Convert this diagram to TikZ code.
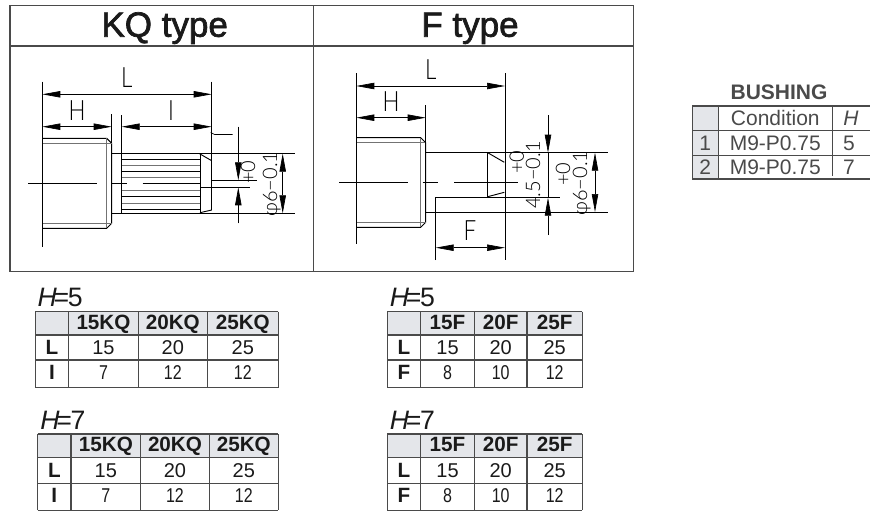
\documentclass[tikz,border=0pt]{standalone}
\usepackage{fontspec}
\setmainfont{Liberation Sans}
\newfontfamily\titlefont[FakeBold=2]{Liberation Sans}
\newfontfamily\draftfont{Lato Light}
\usetikzlibrary{arrows.meta}
\definecolor{framegray}{HTML}{4A4A4A}
\definecolor{headgray}{HTML}{E4E6EA}
\definecolor{inkgray}{HTML}{1A1A1A}
\newcommand{\sizefont}[1]{\fontsize{#1}{#1}\selectfont}
\newcommand{\narrownum}[1]{\scalebox{.8}[1]{#1}}
\newcommand{\draftletter}[1]{\scalebox{.8}[1]{#1}}
\tikzset{
  part/.style={draw=black, line width=0.7pt},
  thinpart/.style={draw=black!55, line width=0.5pt},
  dimline/.style={draw=black, line width=0.5pt},
  dimboth/.style={dimline, {Triangle[length=13.5pt,width=4.8pt]}-{Triangle[length=13.5pt,width=4.8pt]}},
  dimin/.style={dimline, -{Triangle[length=13.5pt,width=4.8pt]}},
  frameline/.style={draw=framegray, line width=0.9pt},
  gridline/.style={draw=framegray, line width=0.9pt},
  headfill/.style={fill=headgray, draw=none},
  typetitle/.style={inner sep=0pt, anchor=base, text=inkgray, font=\titlefont\sizefont{26.25pt}},
  draftlabel/.style={inner sep=0pt, font=\draftfont\sizefont{21pt}},
  drafttol/.style={inner sep=0pt, rotate=90, font=\draftfont\sizefont{15pt}},
  cellbold/.style={inner sep=0pt, anchor=base, text=inkgray, font=\bfseries\sizefont{15.5pt}},
  cellnum/.style={inner sep=0pt, anchor=base, text=inkgray, font=\sizefont{15pt}},
  cellplain/.style={inner sep=0pt, anchor=base, text=framegray, font=\sizefont{15.75pt}},
  tablehead/.style={inner sep=0pt, anchor=base west, text=inkgray, font=\sizefont{20pt}},
}
\begin{document}
\begin{tikzpicture}[x=0.75pt,y=-0.75pt]
  \useasboundingbox (0,0) rectangle (870,511);

  % frame round the two drawings
  \draw[frameline] (10,5.5) rectangle (633.3,271.7);
  \draw[frameline] (10,46) -- (633.3,46);
  \draw[frameline] (313.7,5.5) -- (313.7,271.7);
  \node[typetitle] (kqtitle) at (164.7,36.7) {KQ type};
  \node[typetitle] (ftitle) at (470,36.7) {F type};

  % KQ type, part
  \draw[part] (42.3,138.3) -- (106.7,138.3) -- (111.7,143.3) -- (111.7,223.3) -- (106.7,228.3) -- (42.3,228.3);
  \draw[thinpart] (42.3,143.3) -- (111.7,143.3);
  \draw[thinpart] (42.3,223.3) -- (111.7,223.3);
  \draw[thinpart] (106.7,138.3) -- (106.7,228.3);
  \draw[part] (111.7,153.7) -- (295,153.7);
  \draw[part] (111.7,213.3) -- (295,213.3);
  \draw[part] (121.7,153.7) -- (121.7,213.3);
  \draw[part] (200,153.7) -- (200,213.3);
  \foreach \ky in {159.3,171.7,196.7,209.3}
    \draw[part] (121.7,\ky) -- (200,\ky);
  \foreach \ky in {165.7,177.7,190,203}
    \draw[thinpart] (121.7,\ky) -- (200,\ky);
  \draw[part] (199.5,153.7) -- (211.7,160.7);
  \draw[part] (200,212.7) -- (211.7,210);
  \draw[dimline] (28.3,183.3) -- (96.7,183.3);
  \draw[dimline] (111.7,183.3) -- (127,183.3);
  \draw[part] (142.7,183.3) -- (200,183.3);
  \draw[dimline] (211.7,180.3) -- (256.7,180.3);
  \draw[dimline] (200,187.3) -- (250,187.3);

  % KQ type, dimensions
  \draw[dimline] (42.3,81.7) -- (42.3,247.3);
  \draw[dimline] (211.7,81.7) -- (211.7,210);
  \draw[dimline] (111.7,114) -- (111.7,143.3);
  \draw[dimline] (121.7,115) -- (121.7,153.7);
  \draw[dimboth] (42.3,94.3) -- (211.7,94.3);
  \draw[dimboth] (42.3,126.7) -- (111.7,126.7);
  \draw[dimboth] (121.7,126.7) -- (211.7,126.7);
  \draw[dimline] (210.7,132.5) -- (214.5,134.5) -- (232.7,134.5);
  \draw[dimin] (238.3,126.7) -- (238.3,180.3);
  \draw[dimin] (238.3,223.3) -- (238.3,187.3);
  \draw[dimboth] (282.7,153.7) -- (282.7,213.3);
  \node[draftlabel] (kql) at (126.7,77.5) {\draftletter{L}};
  \node[draftlabel] (kqh) at (77,110.5) {\draftletter{H}};
  \node[draftlabel] (kqi) at (171,110.5) {\draftletter{I}};
  \node[drafttol] (kqtolp) at (248,172) {+0};
  \node[drafttol] (kqtold) at (271.7,184) {φ6−0.1};

  % F type, part
  \draw[part] (356.3,137.7) -- (420.7,137.7) -- (425.7,142.7) -- (425.7,222.3) -- (420.7,227.3) -- (356.3,227.3);
  \draw[thinpart] (356.3,142.7) -- (425.7,142.7);
  \draw[thinpart] (356.3,222.3) -- (425.7,222.3);
  \draw[thinpart] (420.7,137.7) -- (420.7,227.3);
  \draw[part] (425.7,152.7) -- (607.7,152.7);
  \draw[part] (425.7,212) -- (607.7,212);
  \draw[part] (487.7,152.7) -- (487.7,197);
  \draw[part] (487.7,152.7) -- (504.3,162.3);
  \draw[part] (487.7,196.7) -- (504.3,192.3);
  \draw[dimline] (339.3,182.7) -- (407.7,182.7);
  \draw[dimline] (422.7,182.7) -- (438.3,182.7);
  \draw[dimline] (454,182.7) -- (518.3,182.7);

  % F type, dimensions
  \draw[dimline] (356.3,73.3) -- (356.3,244.3);
  \draw[dimline] (505,73.3) -- (505,260);
  \draw[dimline] (425.7,105) -- (425.7,142.7);
  \draw[dimline] (435.7,260) -- (435.7,197.7) -- (560,197.7);
  \draw[dimboth] (356.3,86) -- (505,86);
  \draw[dimboth] (356.3,117.7) -- (425.7,117.7);
  \draw[dimboth] (435.7,247.7) -- (505,247.7);
  \draw[dimin] (548,115) -- (548,152.7);
  \draw[dimline] (548,152.7) -- (548,197.7);
  \draw[dimin] (548,235) -- (548,197.7);
  \draw[dimboth] (595,152.7) -- (595,212);
  \node[draftlabel] (fl) at (430.7,69.3) {\draftletter{L}};
  \node[draftlabel] (fh) at (391,101.7) {\draftletter{H}};
  \node[draftlabel] (ff) at (470,231) {\draftletter{F}};
  \node[drafttol] (ftolp) at (516.7,162) {+0};
  \node[drafttol] (ftold) at (533,175) {4.5−0.1};
  \node[drafttol] (ftolq) at (563,174) {+0};
  \node[drafttol] (ftole) at (581.7,183) {φ6−0.1};

  % bushing
  \node[inner sep=0pt, anchor=base, text=framegray, font=\bfseries\sizefont{15.75pt}] (bushtitle) at (779,99.5) {BUSHING};
  \fill[headfill] (692.3,106) rectangle (718.3,179);
  \draw[gridline] (692.3,106) -- (870,106);
  \draw[gridline] (692.3,130.7) -- (870,130.7);
  \draw[gridline] (692.3,155.3) -- (870,155.3);
  \draw[gridline] (692.3,179) -- (870,179);
  \draw[gridline] (692.3,106) -- (692.3,179);
  \draw[gridline] (718.3,106) -- (718.3,179);
  \draw[gridline] (832.3,106) -- (832.3,176);
  \node[cellplain] (bcond) at (775.3,125.5) {Condition};
  \node[cellplain, font=\itshape\sizefont{15.75pt}] (bh) at (851,125.5) {H};
  \node[cellplain] (bone) at (705.3,150) {1};
  \node[cellplain] (bonem) at (775.3,150) {M9-P0.75};
  \node[cellplain] (bonev) at (849,150) {5};
  \node[cellplain] (btwo) at (705.3,174.5) {2};
  \node[cellplain] (btwom) at (775.3,174.5) {M9-P0.75};
  \node[cellplain] (btwov) at (849,174.5) {7};

  % size tables
  \foreach \tb/\xa/\xb/\xc/\xd/\xe/\ya/\yb/\yc/\yd/\hh/\sa/\sb/\sc/\rn/\ra/\rb/\rc/\lx in {
    ka/35.3/68.7/138.3/207.3/278.3/311.7/335/360/387.7/5/15KQ/20KQ/25KQ/I/7/12/12/37.3,
    kb/37.7/71/140.7/209.3/278.3/434/457.7/483.7/510.4/7/15KQ/20KQ/25KQ/I/7/12/12/40,
    fa/387.3/420.7/474.3/527/582.3/311.7/335/360/387.7/5/15F/20F/25F/F/8/10/12/389.5,
    fb/387.3/420.7/474.3/527/582.3/434/457.7/483.7/510.4/7/15F/20F/25F/F/8/10/12/389.5}{
    \fill[headfill] (\xa,\ya) rectangle (\xe,\yb);
    \foreach \gy in {\ya,\yb,\yc,\yd}
      \draw[gridline] (\xa,\gy) -- (\xe,\gy);
    \foreach \gx in {\xa,\xb,\xc,\xd,\xe}
      \draw[gridline] (\gx,\ya) -- (\gx,\yd);
    \node[tablehead] (\tb head) at (\lx,\ya-5) {\textit{H}\kern-2.4pt=\kern-1pt\hh};
    \node[cellbold] (\tb sa) at ({(\xb+\xc)/2},\yb-6) {\sa};
    \node[cellbold] (\tb sb) at ({(\xc+\xd)/2},\yb-6) {\sb};
    \node[cellbold] (\tb sc) at ({(\xd+\xe)/2},\yb-6) {\sc};
    \node[cellbold] (\tb la) at ({(\xa+\xb)/2},\yc-6) {L};
    \node[cellnum] (\tb ma) at ({(\xb+\xc)/2},\yc-6) {15};
    \node[cellnum] (\tb mb) at ({(\xc+\xd)/2},\yc-6) {20};
    \node[cellnum] (\tb mc) at ({(\xd+\xe)/2},\yc-6) {25};
    \node[cellbold] (\tb lb) at ({(\xa+\xb)/2},\yd-8) {\rn};
    \node[cellnum] (\tb na) at ({(\xb+\xc)/2},\yd-8) {\narrownum{\ra}};
    \node[cellnum] (\tb nb) at ({(\xc+\xd)/2},\yd-8) {\narrownum{\rb}};
    \node[cellnum] (\tb nc) at ({(\xd+\xe)/2},\yd-8) {\narrownum{\rc}};
  }
\end{tikzpicture}
\end{document}
